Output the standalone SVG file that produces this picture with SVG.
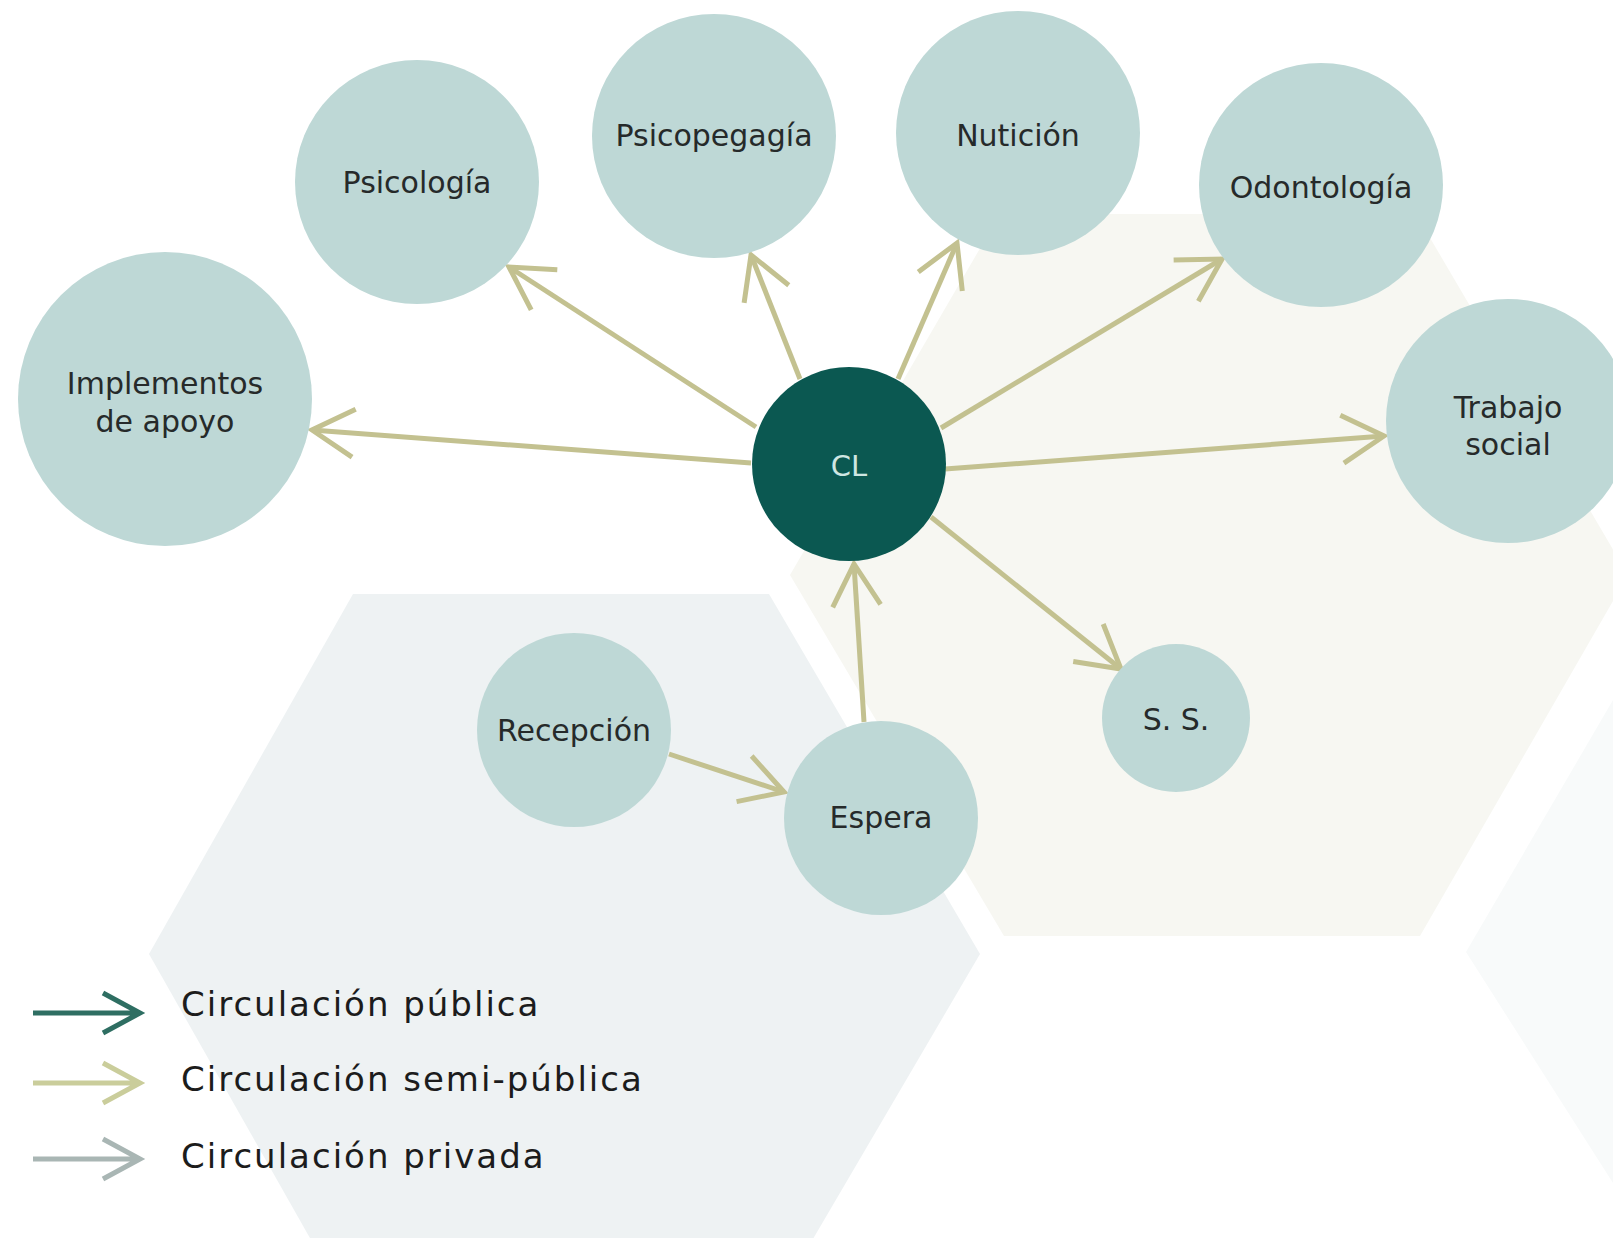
<svg xmlns="http://www.w3.org/2000/svg" width="1613" height="1238" viewBox="0 0 1613 1238">
<style>
.node{fill:#bed8d6}
.lbl{font-family:"DejaVu Sans","Liberation Sans",sans-serif;font-size:30px;fill:#262a2a;text-anchor:middle}
.cl{font-family:"DejaVu Sans","Liberation Sans",sans-serif;font-size:29px;fill:#cfe6e2;text-anchor:middle}
.conn{stroke:#c3c190;stroke-width:5;fill:none;marker-end:url(#chev)}
.leg{font-family:"DejaVu Sans","Liberation Sans",sans-serif;font-size:34px;fill:#1c1c1c;letter-spacing:2px}
</style>
<defs>
<marker id="chev" markerUnits="userSpaceOnUse" viewBox="-50 -30 56 60" refX="0" refY="0" markerWidth="56" markerHeight="60" orient="auto">
<path d="M-42,-24 L0,0 L-42,24" fill="none" stroke="#c3c190" stroke-width="5"/>
</marker>
</defs>
<rect width="1613" height="1238" fill="#ffffff"/>
<g id="background">
<polygon points="1000,214 1416,214 1628,575 1420,936 1004,936 790,575" fill="#f7f7f2"/>
<polygon points="353,594 769,594 980,954 769,1314 353,1314 149,954" fill="#eef2f3"/>
<polygon points="1613,700 1466,952 1613,1183" fill="#f8fafa"/>
</g>
<g id="connectors">
<line class="conn" x1="751" y1="463" x2="312" y2="430"/>
<line class="conn" x1="756" y1="427" x2="509" y2="267"/>
<line class="conn" x1="800" y1="379" x2="751" y2="255"/>
<line class="conn" x1="898" y1="379" x2="957" y2="243"/>
<line class="conn" x1="941" y1="428" x2="1222" y2="259"/>
<line class="conn" x1="945" y1="469" x2="1384" y2="436"/>
<line class="conn" x1="931" y1="517" x2="1121" y2="669"/>
<line class="conn" x1="864" y1="722" x2="854" y2="564"/>
<line class="conn" x1="669" y1="754" x2="784" y2="792"/>
</g>
<g id="node-implementos"><circle class="node" cx="165" cy="399" r="147"/><text class="lbl" x="165" y="394">Implementos</text><text class="lbl" x="165" y="432">de apoyo</text></g>
<g id="node-psicologia"><circle class="node" cx="417" cy="182" r="122"/><text class="lbl" x="417" y="193">Psicología</text></g>
<g id="node-psicopegagia"><circle class="node" cx="714" cy="136" r="122"/><text class="lbl" x="714" y="146">Psicopegagía</text></g>
<g id="node-nuticion"><circle class="node" cx="1018" cy="133" r="122"/><text class="lbl" x="1018" y="146">Nutición</text></g>
<g id="node-odontologia"><circle class="node" cx="1321" cy="185" r="122"/><text class="lbl" x="1321" y="198">Odontología</text></g>
<g id="node-trabajo"><circle class="node" cx="1508" cy="421" r="122"/><text class="lbl" x="1508" y="418">Trabajo</text><text class="lbl" x="1508" y="455">social</text></g>
<g id="node-cl"><circle cx="849" cy="464" r="97" fill="#0b5851"/><text class="cl" x="849" y="476">CL</text></g>
<g id="node-recepcion"><circle class="node" cx="574" cy="730" r="97"/><text class="lbl" x="574" y="741">Recepción</text></g>
<g id="node-espera"><circle class="node" cx="881" cy="818" r="97"/><text class="lbl" x="881" y="828">Espera</text></g>
<g id="node-ss"><circle class="node" cx="1176" cy="718" r="74"/><text class="lbl" x="1176" y="730">S. S.</text></g>
<g id="legend">
<path d="M33,1013 H138 M103,993 L140,1013 L103,1033" fill="none" stroke="#2e6e62" stroke-width="5"/>
<text class="leg" x="181" y="1016">Circulación pública</text>
<path d="M33,1083 H138 M103,1063 L140,1083 L103,1103" fill="none" stroke="#cacd9b" stroke-width="5"/>
<text class="leg" x="181" y="1091">Circulación semi-pública</text>
<path d="M33,1159 H138 M103,1139 L140,1159 L103,1179" fill="none" stroke="#a9b6b4" stroke-width="5"/>
<text class="leg" x="181" y="1168">Circulación privada</text>
</g>
</svg>
